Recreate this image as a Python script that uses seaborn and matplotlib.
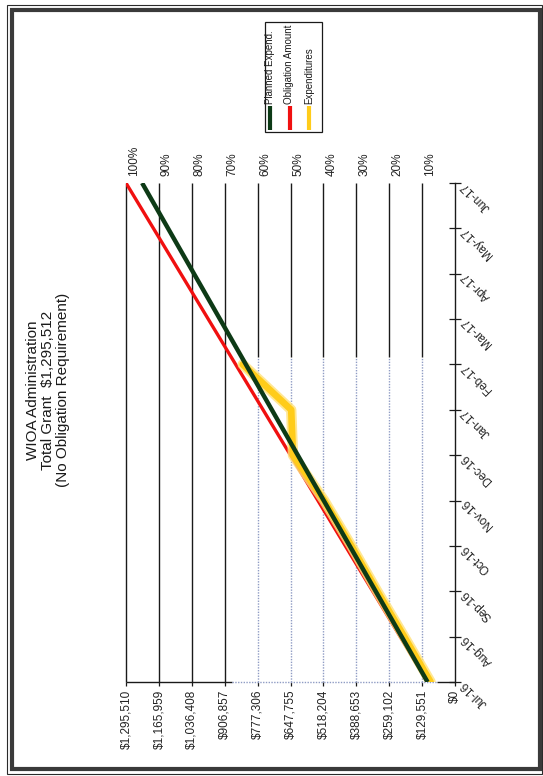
import numpy as np
import pandas as pd
import seaborn as sns
import matplotlib.pyplot as plt
from matplotlib.patches import Rectangle
from matplotlib.lines import Line2D
from matplotlib.transforms import ScaledTranslation

sns.set_style("white")
plt.rcParams["font.family"] = ["Liberation Sans", "DejaVu Sans"]

# ---- data -------------------------------------------------------------
months = ["Jul-16", "Aug-16", "Sep-16", "Oct-16", "Nov-16", "Dec-16",
          "Jan-17", "Feb-17", "Mar-17", "Apr-17", "May-17", "Jun-17"]
axis_max = 1295510
dollar_ticks = [0, 129551, 259102, 388653, 518204, 647755,
                777306, 906857, 1036408, 1165959, 1295510]
dollar_labels = ["$0", "$129,551", "$259,102", "$388,653", "$518,204",
                 "$647,755", "$777,306", "$906,857", "$1,036,408",
                 "$1,165,959", "$1,295,510"]
pct_ticks = [10, 20, 30, 40, 50, 60, 70, 80, 90, 100]
pct_labels = ["10%", "20%", "30%", "40%", "50%", "60%", "70%", "80%",
              "90%", "100%"]

planned = [108000, 210200, 312400, 414600, 516800, 619000,
           721200, 823400, 925600, 1027800, 1130000, 1232000]
obligation = [107959, 215919, 323878, 431837, 539797, 647756,
              755715, 863675, 971634, 1079593, 1187553, 1295512]
expenditures = [96000, 200000, 306000, 408000, 515000, 638000,
                645000, 836000]

legend_names = ["Planned Expend.", "Obligation Amount", "Expenditures"]
c_plan, c_oblig, c_exp = "#0d3a16", "#f01010", "#ffcc1a"

# ---- figure (page is laid out sideways) -------------------------------
W, H = 543, 776
fig = plt.figure(figsize=(W / 100, H / 100), dpi=100)
fig.patch.set_facecolor("white")

x0, x1, y0, y1 = 126, 455, 183, 682
ax = fig.add_axes([x0 / W, 1 - y1 / H, (x1 - x0) / W, (y1 - y0) / H])
ax.set_facecolor("white")

pos = np.arange(len(months))
df_plan = pd.DataFrame({"month": pos, "amount": planned})
df_obl = pd.DataFrame({"month": pos, "amount": obligation})
df_exp = pd.DataFrame({"month": pos[:len(expenditures)], "amount": expenditures})

# vertical grid lines; part of the lower area is printed as light dotted rules
split_y = 7.17
dot_lo, dot_hi = 71000, 878000
for v in dollar_ticks[1:]:
    if dot_lo < v < dot_hi:
        ax.vlines(v, split_y, 11, colors="#1a1a1a", lw=1.0, zorder=1)
        ax.vlines(v, 0, split_y, colors="#8f9cc4", lw=1.0,
                  linestyles=(0, (1, 1)), zorder=1)
    else:
        ax.vlines(v, 0, 11, colors="#1a1a1a", lw=1.0, zorder=1, clip_on=False)

# bottom rule
ax.hlines(0, axis_max, dot_hi, colors="#1a1a1a", lw=1.0, clip_on=False, zorder=1)
ax.hlines(0, dot_lo, 0, colors="#1a1a1a", lw=1.0, clip_on=False, zorder=1)
ax.hlines(0, dot_hi, dot_lo, colors="#8f9cc4", lw=1.0,
          linestyles=(0, (1, 1)), clip_on=False, zorder=1)

# series
sns.lineplot(data=df_exp, x="amount", y="month", orient="y", ax=ax,
             color="#ffe27a", lw=7.5, alpha=0.8, solid_capstyle="round",
             solid_joinstyle="round", zorder=3)
sns.lineplot(data=df_exp, x="amount", y="month", orient="y", ax=ax,
             color=c_exp, lw=4.8, solid_capstyle="round",
             solid_joinstyle="round", zorder=4)
sns.lineplot(data=df_obl, x="amount", y="month", orient="y", ax=ax,
             color=c_oblig, lw=2.4, solid_capstyle="butt", zorder=2)
sns.lineplot(data=df_plan, x="amount", y="month", orient="y", ax=ax,
             color=c_plan, lw=3.2, solid_capstyle="butt", zorder=5)

ax.set_xlim(axis_max, 0)
ax.set_ylim(0, 11)
ax.set_xlabel("")
ax.set_ylabel("")

for s in ["top", "left", "bottom"]:
    ax.spines[s].set_visible(False)
ax.spines["right"].set_color("#1a1a1a")
ax.spines["right"].set_linewidth(1.0)

ax.set_xticks(dollar_ticks)
ax.set_xticklabels(dollar_labels, rotation=90, fontsize=8.5, color="#222222")
ax.tick_params(axis="x", direction="out", length=3, width=0.9,
               color="#1a1a1a", pad=2.5, bottom=True)

ax.yaxis.tick_right()
ax.set_yticks(pos)
ax.set_yticklabels(months, rotation=135, rotation_mode="anchor",
                   ha="right", va="center", fontsize=8.5, color="#222222")
ax.tick_params(axis="y", direction="inout", length=8, width=0.9,
               color="#1a1a1a", pad=2, right=True, left=False)

sec = ax.secondary_xaxis("top", functions=(lambda v: v / axis_max * 100,
                                           lambda p: p * axis_max / 100))
sec.set_xticks(pct_ticks)
sec.set_xticklabels(pct_labels, rotation=90, fontsize=8.5, color="#222222")
sec.tick_params(axis="x", length=0, pad=5)
sec.spines["top"].set_visible(False)
# percentage labels sit a little to the right of their rules
shift = ScaledTranslation(8 / 100, 0, fig.dpi_scale_trans)
for lab in sec.get_xticklabels():
    lab.set_transform(lab.get_transform() + shift)

# title
fig.text(48 / W, 1 - 390 / H,
         "WIOA Administration\nTotal Grant  $1,295,512\n(No Obligation Requirement)",
         rotation=90, ha="center", va="center", multialignment="center",
         fontsize=11, linespacing=1.05, color="#1a1a1a")

# legend box
fig.add_artist(Rectangle((265 / W, 1 - 132 / H), 57 / W, 110 / H,
                         transform=fig.transFigure, facecolor="white",
                         edgecolor="#1a1a1a", lw=0.9, zorder=5))
for name, col, lx in zip(legend_names, [c_plan, c_oblig, c_exp],
                         [270, 289.5, 309]):
    fig.add_artist(Line2D([lx / W, lx / W], [1 - 130 / H, 1 - 106 / H],
                          transform=fig.transFigure, color=col, lw=3.0,
                          solid_capstyle="butt", zorder=6))
    fig.text(lx / W, 1 - 104 / H, name, rotation=90, ha="center",
             va="bottom", fontsize=7, color="#1a1a1a", zorder=6)

# page frame
fig.add_artist(Rectangle((6.5 / W, 1 - 773.5 / H), 535 / W, 769 / H,
                         transform=fig.transFigure, fill=False,
                         edgecolor="#2a2a2a", lw=0.8))
fig.add_artist(Rectangle((11.5 / W, 1 - 768.5 / H), 528.5 / W, 758.5 / H,
                         transform=fig.transFigure, fill=False,
                         edgecolor="#3a3a3a", lw=3.0))

fig.savefig("out.png", dpi=100, facecolor="white")
